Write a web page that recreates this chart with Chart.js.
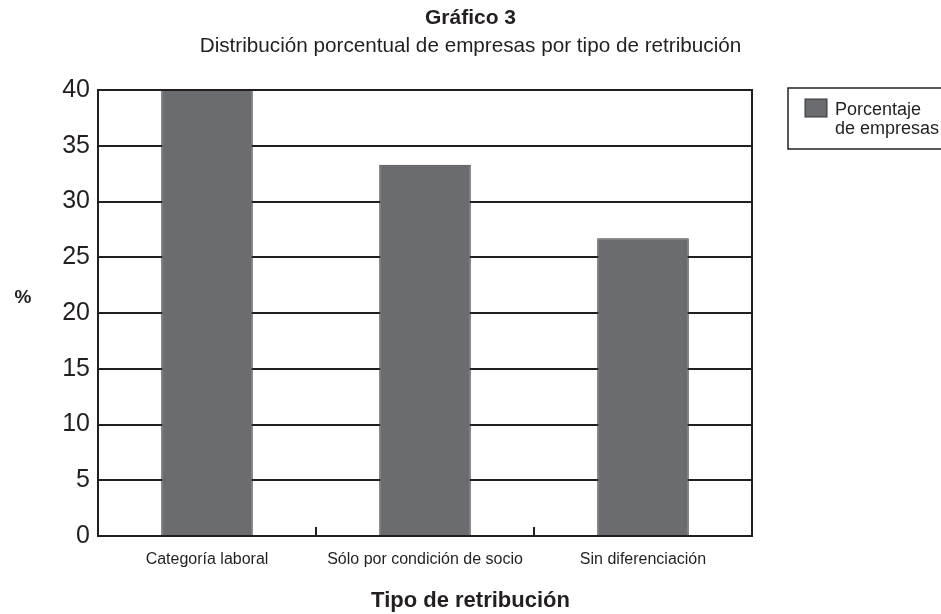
<!DOCTYPE html>
<html>
<head>
<meta charset="utf-8">
<script src="https://cdn.jsdelivr.net/npm/chart.js@4.4.1/dist/chart.umd.min.js"></script>
<style>
  html, body { margin: 0; padding: 0; background: #fff; }
  #wrap { width: 941px; height: 614px; }
</style>
</head>
<body>
<div id="wrap"><canvas id="graph" width="941" height="614"></canvas></div>
<script>
const FONT = '"Liberation Sans", Arial, Helvetica, sans-serif';

const categories = ['Categoría laboral', 'Sólo por condición de socio', 'Sin diferenciación'];
const percentages = [40, 33.3, 26.7];
const yTicks = [0, 5, 10, 15, 20, 25, 30, 35, 40];
const seriesLabel = ['Porcentaje', 'de empresas'];
const titleText = 'Gráfico 3';
const subtitleText = 'Distribución porcentual de empresas por tipo de retribución';
const xTitleText = 'Tipo de retribución';
const yTitleText = '%';

// titles centred on the page, short ticks between categories, frame, legend
const extras = {
    id: 'extras',
    afterDraw(chart) {
        const ctx = chart.ctx;
        const area = chart.chartArea;
        const x = chart.scales.x;
        const mid = chart.width / 2;
        ctx.save();
        ctx.strokeStyle = '#231f20';
        ctx.lineWidth = 2;
        ctx.strokeRect(area.left, area.top, area.right - area.left, area.bottom - area.top);

        for (let i = 0; i < categories.length - 1; i++) {
            const px = Math.round((x.getPixelForValue(i) + x.getPixelForValue(i + 1)) / 2);
            ctx.beginPath();
            ctx.moveTo(px, area.bottom);
            ctx.lineTo(px, area.bottom - 9);
            ctx.stroke();
        }

        ctx.fillStyle = '#231f20';
        ctx.textAlign = 'center';
        ctx.textBaseline = 'middle';
        ctx.font = 'bold 21px ' + FONT;
        ctx.fillText(titleText, mid, 18);
        ctx.font = '20.7px ' + FONT;
        ctx.fillText(subtitleText, mid, 46);
        ctx.font = 'bold 22px ' + FONT;
        ctx.fillText(xTitleText, mid, 601);
        ctx.font = 'bold 19px ' + FONT;
        ctx.fillText(yTitleText, 23, 298);

        // legend
        const ds = chart.data.datasets[0];
        ctx.lineWidth = 1.5;
        ctx.strokeRect(788, 88, 200, 61);
        ctx.fillStyle = ds.backgroundColor;
        ctx.fillRect(805, 99, 22, 18);
        ctx.lineWidth = 1;
        ctx.strokeStyle = '#333';
        ctx.strokeRect(805, 99, 22, 18);
        ctx.fillStyle = '#231f20';
        ctx.font = '18px ' + FONT;
        ctx.textAlign = 'left';
        ctx.textBaseline = 'alphabetic';
        ctx.fillText(seriesLabel[0], 835, 115);
        ctx.fillText(seriesLabel[1], 835, 134);
        ctx.restore();
    }
};

const context = document.getElementById('graph');
new Chart(context, {
    type: 'bar',
    data: {
        labels: categories,
        datasets: [
            {
                label: seriesLabel.join(' '),
                data: percentages,
                backgroundColor: '#6b6c70',
                borderColor: '#3a3a3c',
                borderWidth: 1,
                barPercentage: 0.84,
                categoryPercentage: 0.5
            }
        ]
    },
    options: {
        responsive: false,
        animation: false,
        layout: { padding: { left: 0, right: 189, top: 90, bottom: 0 } },
        plugins: {
            legend: { display: false },
            tooltip: { enabled: false }
        },
        scales: {
            x: {
                afterFit(s) { s.height = 78; },
                grid: { display: false },
                border: { display: true, color: '#231f20', width: 2 },
                ticks: {
                    color: '#231f20',
                    font: { family: FONT, size: 16 },
                    padding: 6,
                    maxRotation: 0
                }
            },
            y: {
                min: 0,
                max: 40,
                afterFit(s) { s.width = 98; },
                afterBuildTicks(s) { s.ticks = yTicks.map(v => ({ value: v })); },
                grid: { color: '#231f20', lineWidth: 2, drawTicks: false },
                border: { display: true, color: '#231f20', width: 2 },
                ticks: {
                    color: '#231f20',
                    font: { family: FONT, size: 25 },
                    padding: 8
                }
            }
        }
    },
    plugins: [extras]
});
</script>
</body>
</html>
